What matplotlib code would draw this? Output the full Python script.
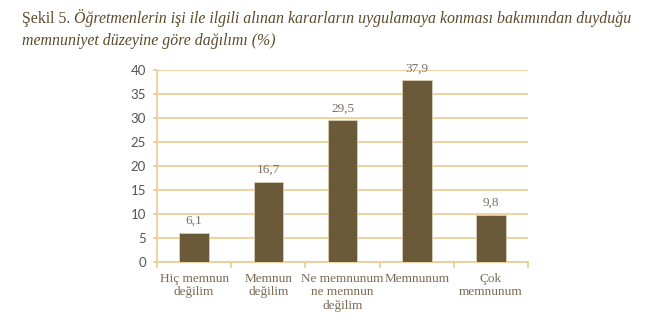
import numpy as np
import matplotlib
matplotlib.use("Agg")
import matplotlib.pyplot as plt

categories = ["Hiç memnun\ndeğilim", "Memnun\ndeğilim", "Ne memnunum\nne memnun\ndeğilim", "Memnunum", "Çok\nmemnunum"]
values = [6.1, 16.7, 29.5, 37.9, 9.8]
value_labels = ["6,1", "16,7", "29,5", "37,9", "9,8"]

bar_color = "#6b5a3a"
grid_color = "#efc98f"
text_color = "#7a6b55"

fig = plt.figure(figsize=(6.6, 3.23), dpi=100)
ax = fig.add_axes([0.238, 0.189, 0.562, 0.594])

x = np.arange(len(values))
ax.bar(x, values, width=0.4, color=bar_color, zorder=3, edgecolor="#d9cdb5", linewidth=0.6)
for xi, v, lab in zip(x, values, value_labels):
    ax.text(xi, v + 1.2, lab, ha="center", va="bottom", family="Liberation Serif",
            fontsize=9.5, color="#777066")

ax.set_xlim(-0.5, len(values) - 0.5)
ax.set_ylim(0, 40)
ax.set_yticks(np.arange(0, 41, 5))
ax.yaxis.grid(True, color=grid_color, linewidth=1.2, zorder=0)
ax.set_axisbelow(True)

ax.set_xticks(x)
ax.set_xticklabels(categories, family="Liberation Serif", fontsize=9.5, color=text_color, linespacing=1.15)
ax.set_xticks(np.arange(-0.5, len(values)), minor=True)
ax.tick_params(axis="x", which="major", length=0, pad=8)
ax.tick_params(axis="x", which="minor", length=4, color=grid_color, width=1.2)
ax.tick_params(axis="y", length=3, color=grid_color, width=1.2, labelsize=9.5, labelcolor="#555555", pad=5)
for lab in ax.get_yticklabels():
    lab.set_family("Lato")

for s in ["top", "right"]:
    ax.spines[s].set_visible(False)
for s in ["left", "bottom"]:
    ax.spines[s].set_color(grid_color)
    ax.spines[s].set_linewidth(1.2)

title_color = "#5b4a2a"
t1 = fig.text(0.033, 0.928, "Şekil 5. ", family="Liberation Serif", fontsize=11.4, color=title_color, va="baseline")
fig.canvas.draw()
bb = t1.get_window_extent()
x2 = bb.x1 / fig.bbox.width
fig.text(x2, 0.928, "Öğretmenlerin işi ile ilgili alınan kararların uygulamaya konması bakımından duyduğu",
         family="Liberation Serif", style="italic", fontsize=11.4, color=title_color, va="baseline")
fig.text(0.033, 0.86, "memnuniyet düzeyine göre dağılımı (%)", family="Liberation Serif",
         style="italic", fontsize=11.4, color=title_color, va="baseline")

fig.savefig("out.png", dpi=100)
